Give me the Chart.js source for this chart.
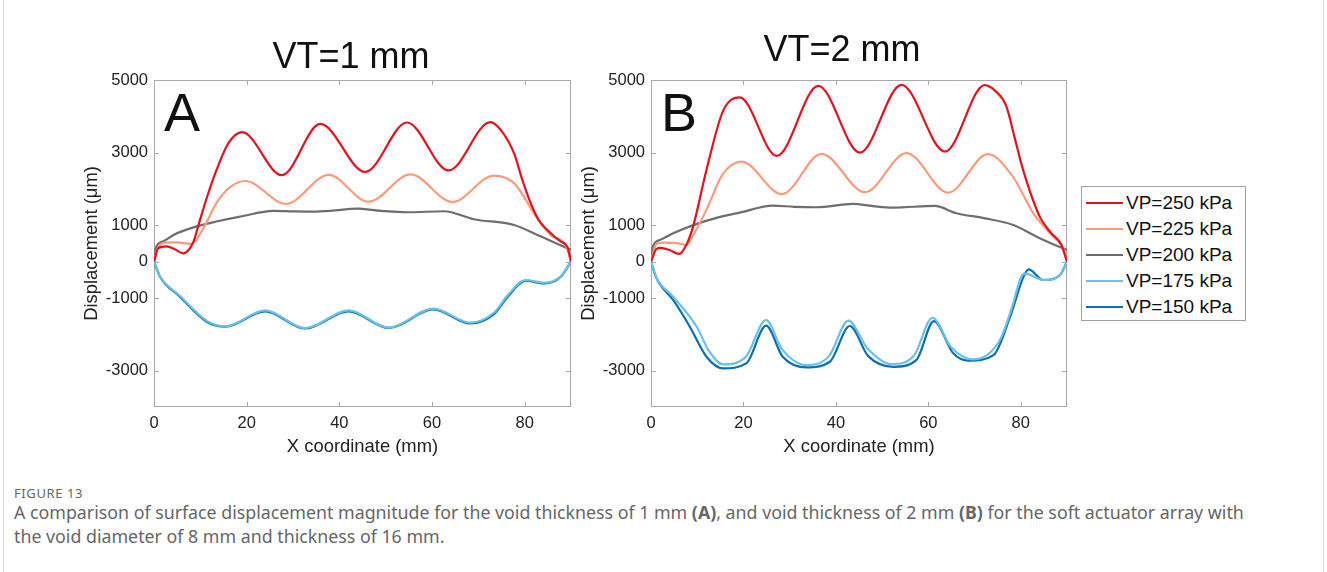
<!DOCTYPE html>
<html>
<head>
<meta charset="utf-8">
<script src="https://cdn.jsdelivr.net/npm/chart.js@4.4.1/dist/chart.umd.min.js"></script>
<style>
  html, body { margin: 0; padding: 0; background: #fff; }
  body { width: 1327px; height: 572px; position: relative; overflow: hidden; font-family: "Liberation Sans", Arial, sans-serif; }
  .frame { position: absolute; left: 3px; top: -2px; width: 1319px; height: 576px; border-left: 1px solid #dcdcdc; border-right: 1px solid #dcdcdc; }
  #boxA { position: absolute; left: 0; top: 0; width: 600px; height: 460px; }
  #boxB { position: absolute; left: 500px; top: 0; width: 580px; height: 460px; }
  #legend { position: absolute; left: 1081px; top: 186px; width: 163px; height: 133px; border: 1px solid #a0a0a0; background: #fff; }
  .item { position: absolute; left: 4px; height: 24px; white-space: nowrap; font-size: 19px; color: #111; }
  .item span.ln { position: absolute; left: 0; top: 11px; width: 37px; height: 2px; }
  .item span.tx { position: absolute; left: 40px; top: 0; line-height: 24px; }
  .caption { position: absolute; left: 14px; font-family: "Noto Sans", sans-serif; color: #666; white-space: nowrap; }
  #figno { top: 484px; font-size: 13px; letter-spacing: 0.6px; }
  #figtext { top: 500px; font-size: 17.8px; line-height: 24px; }
</style>
</head>
<body>
<div class="frame"></div>
<div id="boxA"><canvas id="chartA"></canvas></div>
<div id="boxB"><canvas id="chartB"></canvas></div>
<div id="legend"></div>
<div class="caption" id="figno">FIGURE 13</div>
<div class="caption" id="figtext">A comparison of surface displacement magnitude for the void thickness of 1 mm <b>(A)</b>, and void thickness of 2 mm <b>(B)</b> for the soft actuator array with<br>the void diameter of 8 mm and thickness of 16 mm.</div>
<script>
// series names and colours (legend order)
const seriesLabels = ['VP=250 kPa', 'VP=225 kPa', 'VP=200 kPa', 'VP=175 kPa', 'VP=150 kPa'];
const seriesColors = ['#e8111b', '#fc9a7c', '#6e6e6e', '#6cc0e5', '#0b6fb3'];

const xTicks = [0, 20, 40, 60, 80];
const yTicks = [-3000, -1000, 0, 1000, 3000, 5000];

// ---- panel A: VT = 1 mm ----
const xA250 = [0, 0.9, 2.7, 4.5, 6.3, 8.5, 9.6, 11.5, 13.5, 16, 19, 27.6, 35.9, 45.6, 54.6, 63.6, 72.6, 75, 77.7, 79.5, 81.3, 83, 84.9, 87.8, 89.2, 90];
const yA250 = [0, 370, 420, 340, 230, 540, 1010, 1800, 2525, 3250, 3565, 2380, 3790, 2470, 3830, 2510, 3840, 3600, 2985, 2250, 1610, 1150, 873, 550, 413, 0];

const xA225 = [0, 0.8, 2.7, 5, 7.8, 8.9, 11.4, 13.5, 16.5, 19.7, 28.5, 37.7, 46.3, 55.4, 64.4, 73.4, 77.7, 80, 82, 85.6, 89, 90];
const yA225 = [0, 380, 525, 530, 490, 560, 1100, 1620, 2060, 2220, 1590, 2390, 1650, 2400, 1645, 2370, 2160, 1750, 1330, 735, 413, 0];

const xA200 = [0, 0.3, 2, 4.2, 9.6, 14, 18.6, 25.8, 30, 34.4, 39, 43.8, 49, 54.6, 62.6, 69, 77.7, 83.5, 89.2, 90];
const yA200 = [0, 350, 560, 735, 985, 1120, 1240, 1397, 1385, 1378, 1410, 1460, 1400, 1360, 1388, 1168, 1010, 690, 370, 330];

const xA175 = [0, 1.3, 5.6, 11.4, 15.4, 24, 32.6, 42, 50.7, 60.3, 68.3, 73.4, 76.3, 80.2, 84.2, 87.8, 90];
const yA175 = [0, -400, -940, -1630, -1780, -1340, -1830, -1340, -1815, -1290, -1680, -1400, -930, -505, -580, -400, 0];

const xA150 = [0, 1.3, 5.6, 11.4, 15.4, 24, 32.6, 42, 50.7, 60.3, 68.3, 73.4, 76.3, 80.2, 84.2, 87.8, 90];
const yA150 = [0, -413, -964, -1653, -1790, -1370, -1840, -1370, -1825, -1315, -1700, -1445, -975, -525, -598, -415, 0];

// ---- panel B: VT = 2 mm ----
const xB250 = [0, 1.2, 2.2, 4, 6.1, 7.6, 9.1, 12, 15.6, 19.2, 27.2, 36.2, 45.2, 54.2, 63.6, 72.2, 74.5, 76.9, 78.7, 80.5, 84.1, 86.5, 88.8, 90];
const yB250 = [0, 350, 380, 320, 212, 450, 965, 2525, 4150, 4520, 2910, 4840, 3003, 4868, 3030, 4860, 4700, 4270, 3400, 2525, 1240, 800, 460, 0];

const xB225 = [0, 1.2, 3, 5.5, 7.7, 9, 12, 15.5, 19.6, 28.3, 36.9, 46.3, 55.3, 64.3, 72.9, 78.3, 82.7, 87, 89, 90];
const yB225 = [0, 490, 525, 510, 460, 700, 1425, 2400, 2755, 1857, 2967, 1912, 2986, 1900, 2958, 2340, 1333, 690, 420, 0];

const xB200 = [0, 0.4, 2, 4.8, 9.9, 14, 19.2, 26.4, 31, 35.8, 43.7, 48, 52.4, 61.4, 66.1, 72, 78.4, 84.1, 89.1, 90];
const yB200 = [0, 410, 600, 780, 1040, 1200, 1350, 1543, 1510, 1498, 1590, 1530, 1488, 1534, 1333, 1200, 1010, 645, 370, 330];

const xB175 = [0, 1.2, 4.8, 9.9, 12.5, 15.6, 20.5, 24.9, 28.3, 33.6, 38.5, 42.7, 46.8, 52, 56.9, 60.9, 64.9, 69.7, 75.5, 78, 80.1, 80.9, 84.9, 88.5, 90];
const yB175 = [0, -450, -964, -1790, -2450, -2827, -2620, -1606, -2400, -2845, -2600, -1625, -2380, -2818, -2580, -1543, -2350, -2690, -2157, -1300, -413, -330, -504, -366, 0];

const xB150 = [0, 1.2, 4.8, 8.4, 12, 15.6, 20.6, 24.9, 28.5, 33.6, 38.7, 43, 47, 52.4, 57.4, 61.2, 65.4, 68.7, 74.1, 77.7, 80.6, 81.7, 84.9, 88.5, 90];
const yB150 = [0, -460, -1055, -1790, -2617, -2937, -2800, -1763, -2617, -2910, -2755, -1771, -2600, -2893, -2708, -1634, -2524, -2727, -2570, -1515, -413, -210, -504, -366, 0];

const FONT = '"Liberation Sans", Arial, sans-serif';

// frame with inward ticks, panel title and letter
const boxPlugin = {
    id: 'boxPlugin',
    beforeDatasetsDraw(chart) {
        const { ctx, chartArea: a, scales } = chart;
        const line = (x1, y1, x2, y2) => { ctx.beginPath(); ctx.moveTo(x1, y1); ctx.lineTo(x2, y2); ctx.stroke(); };
        ctx.save();
        ctx.strokeStyle = '#a8a8a8';
        ctx.lineWidth = 1;
        ctx.strokeRect(Math.round(a.left) + 0.5, Math.round(a.top) + 0.5, Math.round(a.right - a.left) - 1, Math.round(a.bottom - a.top) - 1);
        scales.x.ticks.forEach(t => {
            const px = Math.round(scales.x.getPixelForValue(t.value)) + 0.5;
            line(px, a.bottom, px, a.bottom - 5);
            line(px, a.top, px, a.top + 5);
        });
        scales.y.ticks.forEach(t => {
            const py = Math.round(scales.y.getPixelForValue(t.value)) + 0.5;
            line(a.left, py, a.left + 5, py);
            line(a.right, py, a.right - 5, py);
        });
        ctx.restore();
    },
    afterDraw(chart, args, opts) {
        const { ctx } = chart;
        ctx.save();
        ctx.fillStyle = '#111';
        ctx.textBaseline = 'alphabetic';
        ctx.font = '36px ' + FONT;
        ctx.textAlign = 'center';
        ctx.fillText(opts.title, opts.titleX, opts.titleY);
        ctx.font = '54px ' + FONT;
        ctx.textAlign = 'left';
        ctx.fillText(opts.letter, opts.letterX, opts.letterY);
        ctx.restore();
    }
};

function makeDatasets(xsList, ysList) {
    return xsList.map((xs, i) => ({
        label: seriesLabels[i],
        data: xs.map((x, j) => ({ x: x, y: ysList[i][j] })),
        borderColor: seriesColors[i],
        backgroundColor: seriesColors[i],
        borderWidth: 2.2,
        pointRadius: 0,
        fill: false,
        cubicInterpolationMode: 'monotone'
    }));
}

function makeChart(id, datasets, pad, panel) {
    return new Chart(document.getElementById(id), {
        type: 'line',
        data: { datasets: datasets },
        plugins: [boxPlugin],
        options: {
            responsive: true,
            maintainAspectRatio: false,
            animation: false,
            events: [],
            layout: { padding: pad },
            plugins: {
                legend: { display: false },
                tooltip: { enabled: false },
                title: { display: false },
                boxPlugin: panel
            },
            scales: {
                x: {
                    type: 'linear',
                    min: 0,
                    max: 90,
                    afterBuildTicks: s => { s.ticks = xTicks.map(v => ({ value: v })); },
                    afterFit: s => { s.height = 51; },
                    grid: { display: false, drawTicks: false },
                    border: { display: false },
                    ticks: { font: { family: FONT, size: 16.5 }, color: '#222', padding: 7, maxRotation: 0, callback: v => String(v) },
                    title: { display: true, text: 'X coordinate (mm)', font: { family: FONT, size: 18.4 }, color: '#222', padding: 0 }
                },
                y: {
                    type: 'linear',
                    min: -4000,
                    max: 5000,
                    afterBuildTicks: s => { s.ticks = yTicks.map(v => ({ value: v })); },
                    afterFit: s => { s.width = 73; },
                    grid: { display: false, drawTicks: false },
                    border: { display: false },
                    ticks: { font: { family: FONT, size: 16.5 }, color: '#222', padding: 6, callback: v => String(v) },
                    title: { display: true, text: 'Displacement (μm)', font: { family: FONT, size: 18.4 }, color: '#222', padding: 0 }
                }
            }
        }
    });
}

makeChart('chartA',
    makeDatasets([xA250, xA225, xA200, xA175, xA150], [yA250, yA225, yA200, yA175, yA150]),
    { left: 81, top: 80, right: 29, bottom: 2 },
    { title: 'VT=1 mm', titleX: 351, titleY: 68, letter: 'A', letterX: 164, letterY: 131 });

makeChart('chartB',
    makeDatasets([xB250, xB225, xB200, xB175, xB150], [yB250, yB225, yB200, yB175, yB150]),
    { left: 78, top: 80, right: 13, bottom: 2 },
    { title: 'VT=2 mm', titleX: 342, titleY: 61, letter: 'B', letterX: 161, letterY: 131 });

// legend
const legendBox = document.getElementById('legend');
seriesLabels.forEach((lab, i) => {
    const it = document.createElement('div');
    it.className = 'item';
    it.style.top = (4 + i * 26) + 'px';
    it.innerHTML = '<span class="ln" style="background:' + seriesColors[i] + '"></span><span class="tx">' + lab + '</span>';
    legendBox.appendChild(it);
});
</script>
</body>
</html>
